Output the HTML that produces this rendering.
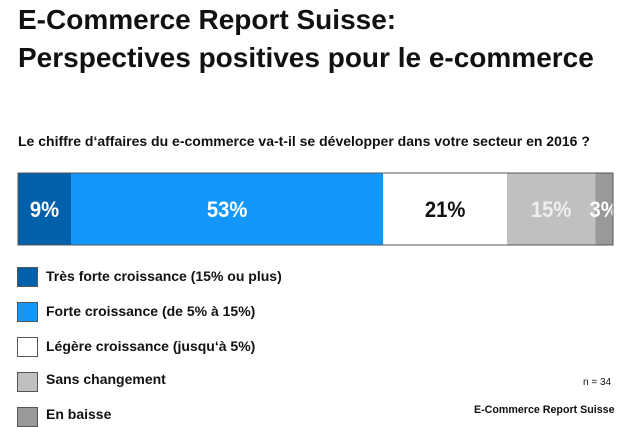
<!DOCTYPE html>
<html><head><meta charset="utf-8"><style>
body{margin:0;width:630px;height:412px;overflow:hidden;background:#fff;font-family:"Liberation Sans",Arial,sans-serif;position:relative}
.t{position:absolute;left:18px;font-weight:bold;font-size:28px;line-height:38px;color:#111;top:1px}
.sub{position:absolute;left:18px;top:133px;font-weight:bold;font-size:14px;color:#111;white-space:nowrap}
.lg{position:absolute;left:17px;width:19px;height:18px;border:1px solid #555}
.lt{position:absolute;left:46px;font-weight:bold;font-size:14px;color:#111;white-space:nowrap}
</style></head><body>
<div class="t">E-Commerce Report Suisse:<br>Perspectives positives pour le e-commerce</div>
<div class="sub">Le chiffre d‘affaires du e-commerce va-t-il se développer dans votre secteur en 2016 ?</div>
<svg id="c" width="630" height="412" style="position:absolute;left:0;top:0"></svg>
<div class="lg" style="top:267px;background:#0060aa"></div>
<div class="lt" style="top:268px">Très forte croissance (15% ou plus)</div>
<div class="lg" style="top:302px;background:#1497fb"></div>
<div class="lt" style="top:303px">Forte croissance (de 5% à 15%)</div>
<div class="lg" style="top:337px;background:#fff"></div>
<div class="lt" style="top:338px">Légère croissance (jusqu‘à 5%)</div>
<div class="lg" style="top:372px;background:#c0c0c0"></div>
<div class="lt" style="top:371px">Sans changement</div>
<div class="lg" style="top:407px;background:#999"></div>
<div class="lt" style="top:406px">En baisse</div>
<div style="position:absolute;left:583px;top:377px;font-size:10px;color:#111">n = 34</div>
<div style="position:absolute;left:474px;top:404px;font-size:11px;font-weight:bold;color:#111;transform-origin:0 0;transform:scaleX(0.97);white-space:nowrap">E-Commerce Report Suisse</div>
<script>
const categories=["Très forte croissance","Forte croissance","Légère croissance","Sans changement","En baisse"];
const values=[9,53,21,15,3];
const labels=["9%","53%","21%","15%","3%"];
const fills=["#0060aa","#1497fb","#ffffff","#c0c0c0","#999999"];
const textCols=["#fff","#fff","#111","#eee","#fff"];
const svg=document.getElementById('c'),NS="http://www.w3.org/2000/svg";
const x0=18,x1=613,y0=173,h=72;
const total=values.reduce((a,b)=>a+b,0);
const xs=v=>v/total*(x1-x0);
let cx=x0;
values.forEach((v,i)=>{
 const w=xs(v);
 const r=document.createElementNS(NS,'rect');
 r.setAttribute('x',cx);r.setAttribute('y',y0);r.setAttribute('width',w);r.setAttribute('height',h);r.setAttribute('fill',fills[i]);
 
 
 svg.appendChild(r);
 const t=document.createElementNS(NS,'text');
 const mx=cx+w/2;
 t.setAttribute('x',0);t.setAttribute('y',0);t.setAttribute('text-anchor','middle');
 t.setAttribute('transform','translate('+mx+','+(y0+h/2+8)+') scale(0.92,1)');
 t.setAttribute('font-size','22');t.setAttribute('font-weight','bold');t.setAttribute('fill',textCols[i]);
 t.setAttribute('font-family','Liberation Sans, sans-serif');
 t.textContent=labels[i];
 
 
 svg.appendChild(t);
 cx+=w;
});
const b=document.createElementNS(NS,'rect');
b.setAttribute('x',x0);b.setAttribute('y',y0);b.setAttribute('width',x1-x0);b.setAttribute('height',h);
b.setAttribute('fill','none');b.setAttribute('stroke','#555');b.setAttribute('stroke-width','1');


svg.appendChild(b);
</script>
</body></html>
